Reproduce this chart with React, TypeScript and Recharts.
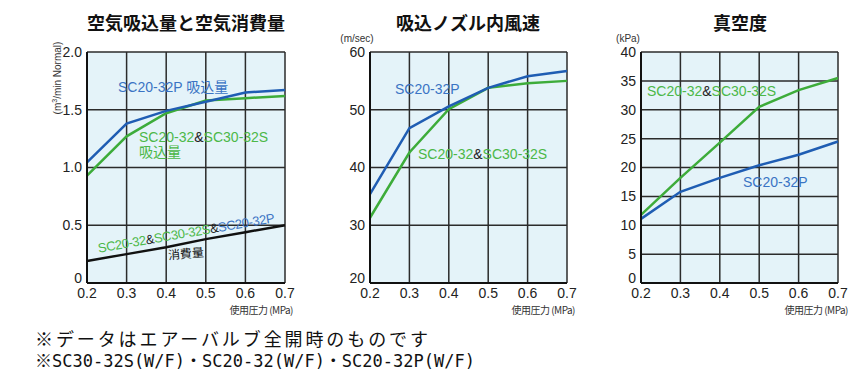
import React from 'react';
import { LineChart, Line, XAxis, YAxis, CartesianGrid } from 'recharts';

const pressure = [0.2, 0.3, 0.4, 0.5, 0.6, 0.7];
const pressureTicks = [0.2, 0.3, 0.4, 0.5, 0.6, 0.7];

// 空気吸込量と空気消費量 (m3/min Normal)
const intakeP = [1.045, 1.38, 1.49, 1.57, 1.65, 1.67];
const intakeS = [0.93, 1.27, 1.47, 1.58, 1.6, 1.62];
const consumption = [0.19, 0.25, 0.31, 0.38, 0.44, 0.5];
const airTicks = [0, 0.5, 1, 1.5, 2];

// 吸込ノズル内風速 (m/sec)
const velocityP = [35.4, 46.8, 50.6, 53.8, 55.8, 56.7];
const velocityS = [31.3, 42.6, 50.1, 53.8, 54.6, 55.0];
const velocityTicks = [20, 30, 40, 50, 60];

// 真空度 (kPa)
const vacuumS = [11.8, 18.2, 24.3, 30.5, 33.4, 35.5];
const vacuumP = [11.1, 15.8, 18.2, 20.4, 22.2, 24.5];
const vacuumTicks = [0, 5, 10, 15, 20, 25, 30, 35, 40];

const BLUE = '#1f5db3';
const GREEN = '#3dac3a';
const BLUE_T = '#3a74c4';
const GREEN_T = '#4cb848';
const BG = '#e4f3f9';
const NUM_FONT = "'Liberation Sans Narrow', 'Liberation Sans', sans-serif";
const JP_FONT = "'Noto Sans CJK JP', sans-serif";
const TXT_FONT = "'Liberation Sans', 'Noto Sans CJK JP', sans-serif";

const airData = pressure.map((p, i) => ({ p, a: intakeP[i], b: intakeS[i], c: consumption[i] }));
const velData = pressure.map((p, i) => ({ p, a: velocityP[i], b: velocityS[i] }));
const vacData = pressure.map((p, i) => ({ p, a: vacuumP[i], b: vacuumS[i] }));

const tickStyle = { fill: '#222', fontSize: 14, fontFamily: NUM_FONT };

type PanelProps = {
  left: number;
  width: number;
  yWidth: number;
  data: any[];
  yDomain: [number, number];
  yTicks: number[];
  yFmt: (v: number) => string;
  lines: { key: string; color: string }[];
};

function Panel({ left, width, yWidth, data, yDomain, yTicks, yFmt, lines }: PanelProps) {
  // bottom label sits a little above its grid line in the original
  const yTick = (props: any) => {
    const { x, y, payload } = props;
    const lift = payload.value === yDomain[0] ? -5 : 0;
    return (
      <text x={x} y={y + lift} dy="0.355em" textAnchor="end" fill="#222" fontSize={14} fontFamily={NUM_FONT}>
        {yFmt(payload.value)}
      </text>
    );
  };
  return (
    <div style={{ position: 'absolute', left, top: 0 }}>
      <LineChart width={width} height={320} data={data} margin={{ top: 52, right: 15, left: 0, bottom: 0 }}>
        <CartesianGrid stroke="#2b2b2b" strokeWidth={1.5} fill={BG} fillOpacity={1} />
        <XAxis
          dataKey="p"
          type="number"
          domain={[0.2, 0.7]}
          ticks={pressureTicks}
          tickFormatter={(v: number) => v.toFixed(1)}
          height={37}
          tickSize={0}
          tickMargin={5}
          axisLine={{ stroke: '#111', strokeWidth: 2 }}
          tick={tickStyle}
        />
        <YAxis
          type="number"
          domain={yDomain}
          ticks={yTicks}
          width={yWidth}
          tickSize={0}
          tickMargin={5}
          axisLine={{ stroke: '#111', strokeWidth: 2 }}
          tick={yTick}
        />
        {lines.map((l) => (
          <Line key={l.key} dataKey={l.key} stroke={l.color} strokeWidth={2.5} dot={false} type="linear" isAnimationActive={false} />
        ))}
      </LineChart>
    </div>
  );
}

const abs = (x: number, y: number, extra: React.CSSProperties = {}): React.CSSProperties => ({
  position: 'absolute',
  left: x,
  top: y,
  whiteSpace: 'nowrap',
  lineHeight: 1,
  ...extra,
});

export default function App() {
  const ann = { fontFamily: TXT_FONT, fontSize: 14 };
  const amp = <span style={{ color: '#222' }}>&amp;</span>;
  return (
    <div style={{ position: 'absolute', left: 0, top: 0, width: 865, height: 376, background: '#fff', overflow: 'hidden' }}>
      <Panel
        left={0}
        width={300}
        yWidth={87}
        data={airData}
        yDomain={[0, 2]}
        yTicks={airTicks}
        yFmt={(v) => (v === 0 ? '0' : v.toFixed(1))}
        lines={[
          { key: 'c', color: '#111' },
          { key: 'b', color: GREEN },
          { key: 'a', color: BLUE },
        ]}
      />
      <Panel
        left={300}
        width={282}
        yWidth={70}
        data={velData}
        yDomain={[20, 60]}
        yTicks={velocityTicks}
        yFmt={(v) => String(v)}
        lines={[
          { key: 'b', color: GREEN },
          { key: 'a', color: BLUE },
        ]}
      />
      <Panel
        left={590}
        width={263}
        yWidth={51}
        data={vacData}
        yDomain={[0, 40]}
        yTicks={vacuumTicks}
        yFmt={(v) => String(v)}
        lines={[
          { key: 'b', color: GREEN },
          { key: 'a', color: BLUE },
        ]}
      />

      {/* titles */}
      <div style={abs(186, 22, { transform: 'translate(-50%,-50%)', fontFamily: JP_FONT, fontWeight: 700, fontSize: 18, color: '#111' })}>空気吸込量と空気消費量</div>
      <div style={abs(468, 22, { transform: 'translate(-50%,-50%)', fontFamily: JP_FONT, fontWeight: 700, fontSize: 18, color: '#111' })}>吸込ノズル内風速</div>
      <div style={abs(740, 22, { transform: 'translate(-50%,-50%)', fontFamily: JP_FONT, fontWeight: 700, fontSize: 18, color: '#111' })}>真空度</div>

      {/* units */}
      <div style={abs(57, 78, { transform: 'translate(-50%,-50%) rotate(-90deg)', fontFamily: NUM_FONT, fontSize: 10, color: '#333' })}>
        (m<sup style={{ fontSize: 7 }}>3</sup>/min Normal)
      </div>
      <div style={abs(357, 39, { transform: 'translate(-50%,-50%)', fontFamily: NUM_FONT, fontSize: 10, color: '#333' })}>(m/sec)</div>
      <div style={abs(628, 39, { transform: 'translate(-50%,-50%)', fontFamily: NUM_FONT, fontSize: 10, color: '#333' })}>(kPa)</div>
      {[293, 575, 848].map((r) => (
        <div key={r} style={abs(r - 72, 305, { width: 72, textAlign: 'right', fontFamily: JP_FONT, fontSize: 10, color: '#333', letterSpacing: -0.5 })}>
          使用圧力 (MPa)
        </div>
      ))}

      {/* chart 1 annotations */}
      <div style={abs(118, 80, { ...ann, color: BLUE_T })}>SC20-32P 吸込量</div>
      <div style={abs(139, 130, { ...ann, color: GREEN_T })}>SC20-32{amp}SC30-32S</div>
      <div style={abs(139, 145, { ...ann, color: GREEN_T })}>吸込量</div>
      <div style={abs(186, 233, { ...ann, fontSize: 13, letterSpacing: -0.4, transform: 'translate(-50%,-50%) rotate(-9.8deg)', color: GREEN_T })}>
        SC20-32{amp}SC30-32S{amp}<span style={{ color: BLUE_T }}>SC20-32P</span>
      </div>
      <div style={abs(186, 254, { ...ann, fontSize: 12, transform: 'translate(-50%,-50%) rotate(-5deg)', color: '#111' })}>消費量</div>

      {/* chart 2 annotations */}
      <div style={abs(395, 82, { ...ann, color: BLUE_T })}>SC20-32P</div>
      <div style={abs(418, 147, { ...ann, color: GREEN_T })}>SC20-32{amp}SC30-32S</div>

      {/* chart 3 annotations */}
      <div style={abs(647, 84, { ...ann, color: GREEN_T })}>SC20-32{amp}SC30-32S</div>
      <div style={abs(743, 175, { ...ann, color: BLUE_T })}>SC20-32P</div>

      {/* footnotes */}
      <div style={abs(35, 329, { fontFamily: JP_FONT, fontSize: 18, color: '#111', letterSpacing: 2.9 })}>※データはエアーバルブ全開時のものです</div>
      <div style={abs(35, 353, { fontFamily: "'DejaVu Sans Mono', 'Noto Sans CJK JP', monospace", fontSize: 17, color: '#111' })}>
        ※SC30-32S(W/F)・SC20-32(W/F)・SC20-32P(W/F)
      </div>
    </div>
  );
}
